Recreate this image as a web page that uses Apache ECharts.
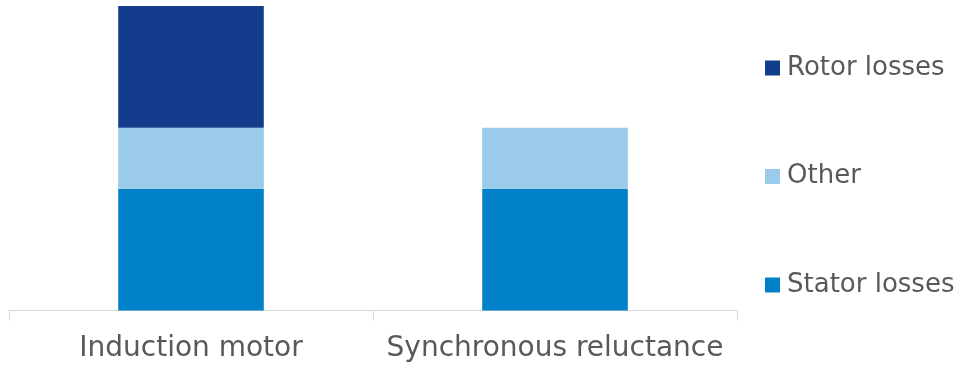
<!DOCTYPE html>
<html><head><meta charset="utf-8">
<script src="https://cdn.jsdelivr.net/npm/echarts@6/dist/echarts.min.js"></script>
<style>html,body{margin:0;padding:0;background:#fff}#c{width:961px;height:365px}</style>
</head><body><div id="c"></div>
<script>
const categories = ['Induction motor', 'Synchronous reluctance'];
const statorLosses = [2, 2];
const otherLosses = [1, 1];
const rotorLosses = [2, 0];
const legendOrder = ['Rotor losses', 'Other', 'Stator losses'];

const chart = echarts.init(document.getElementById('c'), null, {renderer: 'canvas'});
const font = 'DejaVu Sans';
chart.setOption({
  animation: false,
  grid: {left: 9, right: 224, top: 6, bottom: 54.5},
  legend: {
    orient: 'vertical', left: 765, top: 55, padding: 0,
    data: legendOrder,
    itemWidth: 15, itemHeight: 15, itemGap: 82.5,
    icon: 'rect',
    textStyle: {fontFamily: font, fontSize: 26, lineHeight: 26, color: '#595959', padding: [0, 0, 0, 2]}
  },
  xAxis: {
    type: 'category', data: categories,
    axisLine: {lineStyle: {color: '#d9d9d9', width: 1}},
    axisTick: {show: true, length: 10, interval: 0, lineStyle: {color: '#d9d9d9'}},
    axisLabel: {fontFamily: font, fontSize: 28, color: '#595959', margin: 24, interval: 0}
  },
  yAxis: {type: 'value', min: 0, max: 5, show: false, splitLine: {show: false}},
  series: [
    {name: 'Stator losses', type: 'bar', stack: 's', data: statorLosses, barWidth: '40%', itemStyle: {color: '#0080c8'}},
    {name: 'Other', type: 'bar', stack: 's', data: otherLosses, itemStyle: {color: '#9acbea'}},
    {name: 'Rotor losses', type: 'bar', stack: 's', data: rotorLosses, itemStyle: {color: '#143c8c'}}
  ]
});
</script></body></html>
